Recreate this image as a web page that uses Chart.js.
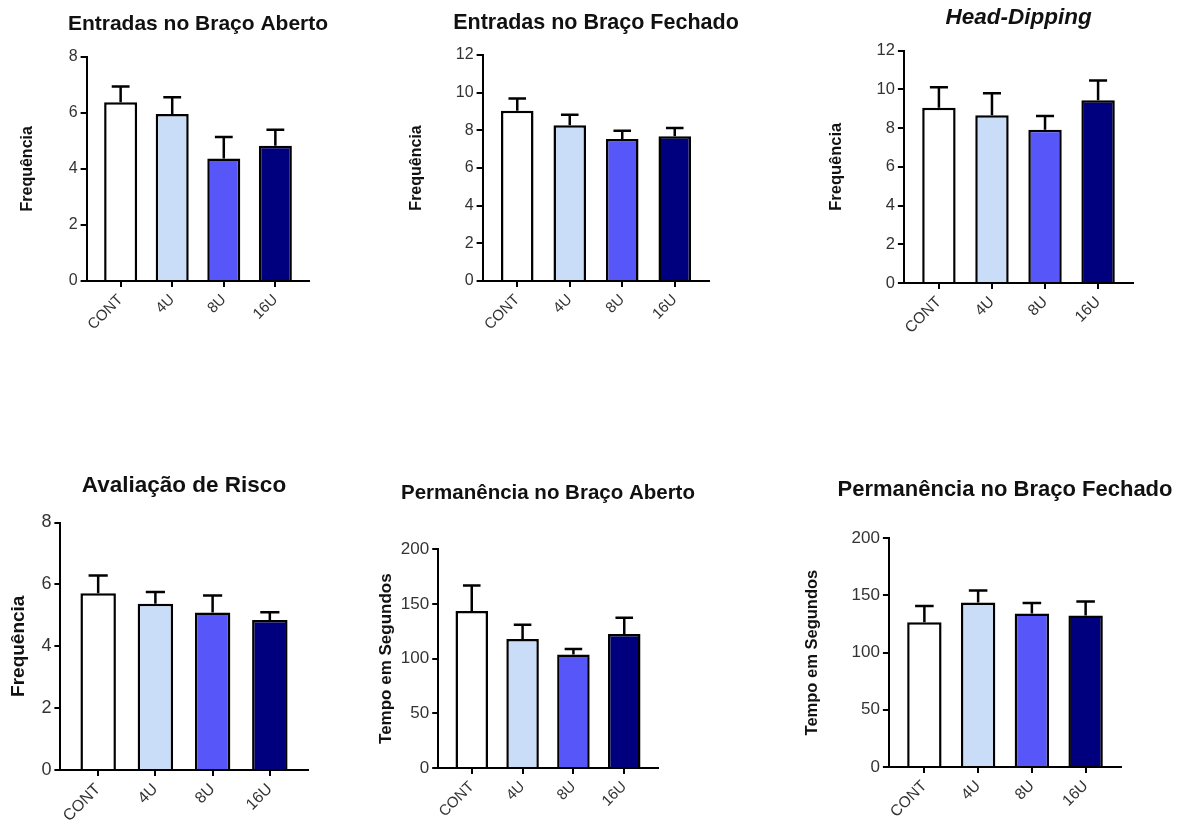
<!DOCTYPE html>
<html>
<head>
<meta charset="utf-8">
<script src="https://cdn.jsdelivr.net/npm/chart.js@4.4.1/dist/chart.umd.min.js"></script>
<style>
  html, body { margin: 0; padding: 0; background: #ffffff; width: 1185px; height: 825px; overflow: hidden; }
  canvas { position: absolute; }
</style>
</head>
<body>
<script>
// Treatment groups and their bar fills
const groups = ['CONT', '4U', '8U', '16U'];
const groupColors = ['#ffffff', '#c9ddf8', '#5757f9', '#00007f'];

// Y tick values
const freqTicks8 = [0, 2, 4, 6, 8];
const freqTicks12 = [0, 2, 4, 6, 8, 10, 12];
const timeTicks200 = [0, 50, 100, 150, 200];

// Means and SEM (upper error bar) per group
const entradasAbertoMean = [6.37, 5.95, 4.37, 4.82];
const entradasAbertoSem = [0.56, 0.60, 0.76, 0.57];

const entradasFechadoMean = [9.03, 8.27, 7.54, 7.68];
const entradasFechadoSem = [0.65, 0.56, 0.43, 0.44];

const headDippingMean = [9.04, 8.66, 7.91, 9.43];
const headDippingSem = [1.06, 1.13, 0.71, 1.02];

const avaliacaoRiscoMean = [5.71, 5.37, 5.09, 4.85];
const avaliacaoRiscoSem = [0.58, 0.38, 0.55, 0.25];

const permanenciaAbertoMean = [143.6, 118.0, 103.7, 122.5];
const permanenciaAbertoSem = [23.2, 13.0, 5.1, 15.0];

const permanenciaFechadoMean = [126.6, 143.7, 134.1, 132.4];
const permanenciaFechadoSem = [14.2, 10.5, 9.3, 12.2];

Chart.defaults.font.family = '"Liberation Sans", Arial, Helvetica, sans-serif';

// Upward-only SEM bars with a cap, drawn over each bar
const semBarsPlugin = {
  id: 'semBars',
  afterDatasetsDraw(chart) {
    const ctx = chart.ctx;
    const yScale = chart.scales.y;
    const ds = chart.data.datasets[0];
    const meta = chart.getDatasetMeta(0);
    ctx.save();
    ctx.strokeStyle = '#000000';
    ctx.lineWidth = 2.5;
    meta.data.forEach((bar, i) => {
      const top = yScale.getPixelForValue(ds.data[i].y + ds.sem[i]);
      const half = bar.width * 0.27;
      ctx.beginPath();
      ctx.moveTo(bar.x, bar.y);
      ctx.lineTo(bar.x, top);
      ctx.moveTo(bar.x - half, top);
      ctx.lineTo(bar.x + half, top);
      ctx.stroke();
    });
    ctx.restore();
  }
};

// Panel layout: plot box in page pixels, title and font sizes
const panels = [
  { title: 'Entradas no Braço Aberto', yLabel: 'Frequência', mean: entradasAbertoMean, sem: entradasAbertoSem, yTicks: freqTicks8,
    box: { left: 87, right: 310, top: 57, bottom: 281 }, titleY: 25, titleSize: 21, yTitleX: 28, yTitleSize: 16, tickSize: 16, xTickSize: 15, barPct: 0.64 },
  { title: 'Entradas no Braço Fechado', yLabel: 'Frequência', mean: entradasFechadoMean, sem: entradasFechadoSem, yTicks: freqTicks12,
    box: { left: 483, right: 710, top: 55, bottom: 281 }, titleY: 23, titleSize: 21.5, yTitleX: 417, yTitleSize: 16, tickSize: 16, xTickSize: 15, barPct: 0.62 },
  { title: 'Head-Dipping', italic: true, yLabel: 'Frequência', mean: headDippingMean, sem: headDippingSem, yTicks: freqTicks12,
    box: { left: 904, right: 1133, top: 50, bottom: 282 }, titleY: 17, titleSize: 22.5, yTitleX: 837, yTitleSize: 16.5, tickSize: 16.5, xTickSize: 15.5, barPct: 0.63 },
  { title: 'Avaliação de Risco', yLabel: 'Frequência', mean: avaliacaoRiscoMean, sem: avaliacaoRiscoSem, yTicks: freqTicks8,
    box: { left: 60, right: 307, top: 522, bottom: 769 }, titleY: 485, titleSize: 22.5, yTitleX: 18, yTitleSize: 19, tickSize: 18, xTickSize: 16, barPct: 0.62 },
  { title: 'Permanência no Braço Aberto', yLabel: 'Tempo em Segundos', mean: permanenciaAbertoMean, sem: permanenciaAbertoSem, yTicks: timeTicks200,
    box: { left: 438, right: 658, top: 549, bottom: 768 }, titleY: 493, titleSize: 20.5, yTitleX: 386, yTitleSize: 17, tickSize: 17, xTickSize: 15, barPct: 0.64 },
  { title: 'Permanência no Braço Fechado', yLabel: 'Tempo em Segundos', mean: permanenciaFechadoMean, sem: permanenciaFechadoSem, yTicks: timeTicks200,
    box: { left: 889, right: 1121, top: 538, bottom: 767 }, titleY: 490, titleSize: 22, yTitleX: 813, yTitleSize: 16.5, tickSize: 17, xTickSize: 15.5, barPct: 0.64 }
];

function makePanel(p) {
  const xAxisHeight = 70;
  const yAxisWidth = p.box.left - p.yTitleX + p.yTitleSize * 0.6 + 4;
  const canvasLeft = p.box.left - yAxisWidth;
  const canvasTop = p.titleY - 0.6 * p.titleSize;
  // an empty right-hand band as wide as the y axis keeps the title centred over the plot
  const width = Math.round(p.box.right - canvasLeft + yAxisWidth);
  const height = Math.round(p.box.bottom - canvasTop + xAxisHeight);

  const canvas = document.createElement('canvas');
  canvas.width = width;
  canvas.height = height;
  canvas.style.width = width + 'px';
  canvas.style.height = height + 'px';
  canvas.style.left = canvasLeft + 'px';
  canvas.style.top = canvasTop + 'px';
  document.body.appendChild(canvas);

  const axisGrid = { display: true, offset: false, drawOnChartArea: false, drawTicks: true, tickLength: 6, color: '#000000', lineWidth: 2 };
  const axisBorder = { display: true, color: '#000000', width: 2 };

  new Chart(canvas.getContext('2d'), {
    type: 'bar',
    data: {
      datasets: [{
        data: p.mean.map((v, i) => ({ x: i, y: v })),
        sem: p.sem,
        backgroundColor: groupColors,
        borderColor: '#000000',
        borderWidth: 2.5,
        borderSkipped: 'start',
        barPercentage: p.barPct,
        categoryPercentage: 1
      }]
    },
    options: {
      responsive: false,
      animation: false,
      devicePixelRatio: 1,
      layout: { padding: 0 },
      plugins: {
        legend: { display: false },
        tooltip: { enabled: false },
        title: {
          display: true,
          text: p.title,
          color: '#111111',
          font: { size: p.titleSize, weight: 'bold', style: p.italic ? 'italic' : 'normal', lineHeight: 1.2 },
          padding: { top: 0, bottom: p.box.top - canvasTop - 1.2 * p.titleSize }
        }
      },
      scales: {
        x: {
          type: 'linear',
          offset: false,
          min: -0.66,
          max: 3.66,
          bounds: 'data',
          grid: axisGrid,
          border: axisBorder,
          ticks: {
            autoSkip: false, minRotation: 45, maxRotation: 45, padding: 4,
            color: '#333333', font: { size: p.xTickSize },
            callback: (v) => groups[v]
          },
          afterBuildTicks: (axis) => { axis.ticks = groups.map((_, i) => ({ value: i })); },
          afterFit: (axis) => { axis.height = xAxisHeight; }
        },
        y: {
          position: 'left',
          min: 0,
          max: p.yTicks[p.yTicks.length - 1],
          grid: axisGrid,
          border: axisBorder,
          ticks: { padding: 3, color: '#333333', font: { size: p.tickSize } },
          afterBuildTicks: (axis) => { axis.ticks = p.yTicks.map((v) => ({ value: v })); },
          afterFit: (axis) => { axis.width = yAxisWidth; },
          title: {
            display: true,
            text: p.yLabel,
            color: '#111111',
            font: { size: p.yTitleSize, weight: 'bold', lineHeight: 1.2 },
            padding: { top: 4, bottom: 0 }
          }
        },
        yRightBand: {
          position: 'right',
          display: true,
          grid: { display: false },
          border: { display: false },
          ticks: { display: false },
          afterFit: (axis) => { axis.width = yAxisWidth; }
        }
      }
    },
    plugins: [semBarsPlugin]
  });
}

panels.forEach(makePanel);
</script>
</body>
</html>
